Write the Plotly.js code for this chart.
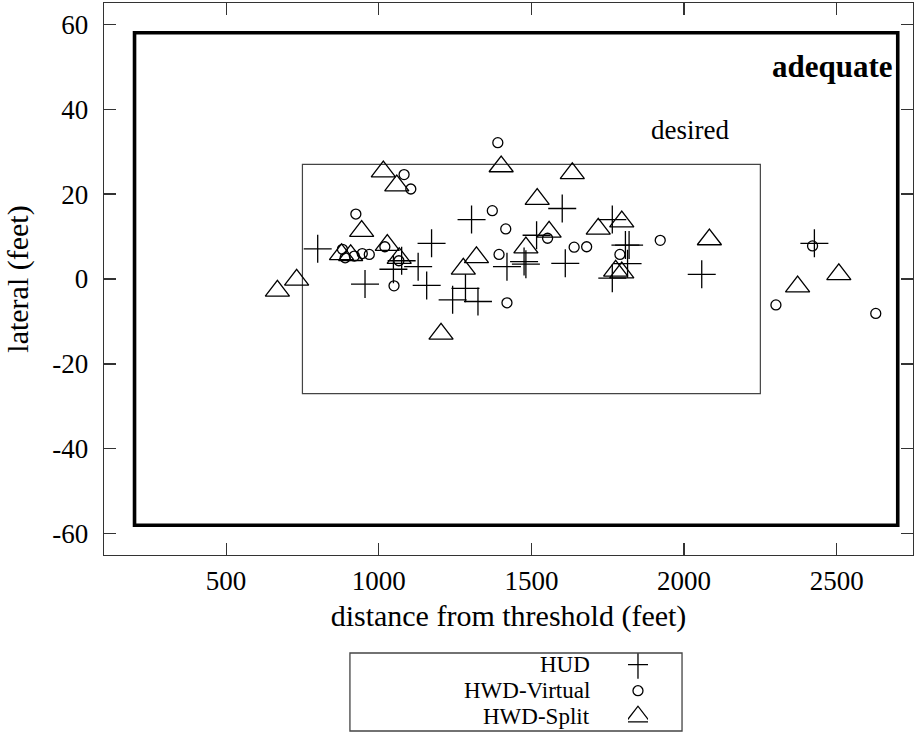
<!DOCTYPE html>
<html>
<head>
<meta charset="utf-8">
<script src="https://cdn.plot.ly/plotly-3.0.1.min.js"></script>
<style>html,body{margin:0;padding:0;background:#fff;}#chart{width:920px;height:736px;}</style>
</head>
<body>
<div id="chart"></div>
<script>
// ---- data ----
const hudX = [800, 955, 1048, 1075, 1129, 1157, 1173, 1242, 1284, 1304, 1325, 1420, 1476, 1482, 1517, 1601, 1611, 1765, 1765, 1808, 1820, 1815, 2058, 2427];
const hudY = [7.1, -1.2, 2.3, 4.3, 2.9, -1.5, 8.4, -4.9, -2.2, 14.0, -5.3, 2.9, 4.1, 3.5, 10.3, 16.6, 3.7, 14.0, 0.2, 8.0, 8.0, 3.6, 1.1, 8.4];

const virtX = [881, 890, 920, 946, 969, 925, 1020, 1050, 1066, 1083, 1105, 1372, 1390, 1394, 1416, 1420, 1553, 1640, 1681, 1790, 1922, 2301, 2421, 2628];
const virtY = [7.0, 5.0, 5.4, 6.0, 5.8, 15.3, 7.6, -1.6, 4.3, 24.6, 21.2, 16.1, 32.1, 5.8, 11.8, -5.6, 9.6, 7.5, 7.6, 5.8, 9.1, -6.1, 7.8, -8.1];

const splitX = [668, 731, 878, 908, 944, 1015, 1028, 1059, 1067, 1204, 1277, 1320, 1401, 1482, 1519, 1558, 1634, 1719, 1796, 1776, 1796, 2083, 2372, 2507];
const splitY = [-2.8, -0.2, 5.8, 5.6, 11.3, 25.3, 8.0, 22.0, 4.9, -12.9, 2.4, 5.1, 26.5, 7.4, 18.8, 11.1, 24.9, 11.8, 13.5, 1.9, 1.5, 9.3, -1.8, 1.1];

const seriesNames = ['HUD', 'HWD-Virtual', 'HWD-Split'];
const legendRows = [2, 1, 0];

const adequateBox = {x: [200, 2700], y: [-58, 58]};
const desiredBox = {x: [750, 2250], y: [-27, 27]};

const xTickVals = [500, 1000, 1500, 2000, 2500];
const xTickText = ['500', '1000', '1500', '2000', '2500'];
const yTickVals = [-60, -40, -20, 0, 20, 40, 60];
const yTickText = ['-60', '-40', '-20', '0', '20', '40', '60'];

// ---- styles ----
const FONT = 'Liberation Serif, Times New Roman, serif';
const hudMarker = {symbol: 'cross-thin-open', size: 20, color: '#000', line: {color: '#000', width: 1.3}};
const virtMarker = {symbol: 'circle-open', size: 10, color: '#000', line: {color: '#000', width: 1.3}};
const splitMarker = {symbol: 'triangle-up-open', size: 21, color: '#000', line: {color: '#000', width: 1.3}};
const markers = [hudMarker, virtMarker, splitMarker];

const traces = [
  {x: hudX, y: hudY, name: seriesNames[0], type: 'scatter', mode: 'markers', marker: hudMarker, showlegend: false},
  {x: virtX, y: virtY, name: seriesNames[1], type: 'scatter', mode: 'markers', marker: virtMarker, showlegend: false},
  {x: splitX, y: splitY, name: seriesNames[2], type: 'scatter', mode: 'markers', marker: splitMarker, showlegend: false}
];
// legend keys (custom legend drawn in an inset axis)
seriesNames.forEach((n, i) => {
  traces.push({x: [0], y: [legendRows[i]], xaxis: 'x2', yaxis: 'y2', type: 'scatter', mode: 'markers',
    marker: markers[i], showlegend: false, hoverinfo: 'skip', name: n + ' key'});
});

const annotations = [
  {x: 2690, y: 50, xref: 'x', yref: 'y', text: '<b>adequate</b>', showarrow: false, xanchor: 'right', yanchor: 'middle',
   font: {family: FONT, size: 31, color: '#000'}},
  {x: 2020, y: 35, xref: 'x', yref: 'y', text: 'desired', showarrow: false, xanchor: 'center', yanchor: 'middle',
   font: {family: FONT, size: 27, color: '#000'}}
];
seriesNames.forEach((n, i) => {
  annotations.push({x: 0.602, xref: 'paper', y: legendRows[i], yref: 'y2', text: n, showarrow: false,
    xanchor: 'right', yanchor: 'middle', borderpad: 0, font: {family: FONT, size: 23, color: '#000'}});
});

const shapes = [
  {type: 'rect', xref: 'x', yref: 'y', x0: adequateBox.x[0], x1: adequateBox.x[1], y0: adequateBox.y[0], y1: adequateBox.y[1],
   line: {color: '#000', width: 3.6}, layer: 'below'},
  {type: 'rect', xref: 'x', yref: 'y', x0: desiredBox.x[0], x1: desiredBox.x[1], y0: desiredBox.y[0], y1: desiredBox.y[1],
   line: {color: '#444', width: 1.2}, layer: 'below'},
  {type: 'rect', xref: 'paper', yref: 'paper', x0: 0.304, x1: 0.7145, y0: 0.0068, y1: 0.1132,
   line: {color: '#444', width: 1.3}, fillcolor: 'rgba(0,0,0,0)'}
];

const layout = {
  width: 920, height: 736,
  margin: {l: 104, r: 7, t: 3, b: 0},
  paper_bgcolor: '#fff', plot_bgcolor: '#fff',
  font: {family: FONT, size: 27, color: '#000'},
  showlegend: false,
  xaxis: {
    range: [100, 2750], domain: [0, 1], anchor: 'y',
    tickmode: 'array', tickvals: xTickVals, ticktext: xTickText,
    ticks: 'inside', ticklen: 12, tickwidth: 1.2, tickcolor: '#333',
    showline: true, linecolor: '#333', linewidth: 1.3, mirror: 'allticks',
    showgrid: false, zeroline: false,
    tickfont: {family: FONT, size: 27, color: '#000'},
    ticklabelstandoff: 1,
    title: {text: 'distance from threshold (feet)', font: {family: FONT, size: 30, color: '#000'}, standoff: 10}
  },
  yaxis: {
    range: [-65, 65], domain: [0.2469, 1], anchor: 'x',
    tickmode: 'array', tickvals: yTickVals, ticktext: yTickText,
    ticks: 'inside', ticklen: 12, tickwidth: 1.2, tickcolor: '#333',
    showline: true, linecolor: '#333', linewidth: 1.3, mirror: 'allticks',
    showgrid: false, zeroline: false,
    tickfont: {family: FONT, size: 27, color: '#000'},
    ticklabelstandoff: 9,
    title: {text: 'lateral (feet)', font: {family: FONT, size: 30, color: '#000'}, standoff: 14}
  },
  xaxis2: {domain: [0.6477, 0.6724], range: [-1, 1], anchor: 'y2', visible: false, fixedrange: true},
  yaxis2: {domain: [0.0068, 0.1132], range: [-0.55, 2.45], anchor: 'x2', visible: false, fixedrange: true},
  shapes: shapes,
  annotations: annotations
};

Plotly.newPlot('chart', traces, layout, {displayModeBar: false, staticPlot: true});
</script>
</body>
</html>
